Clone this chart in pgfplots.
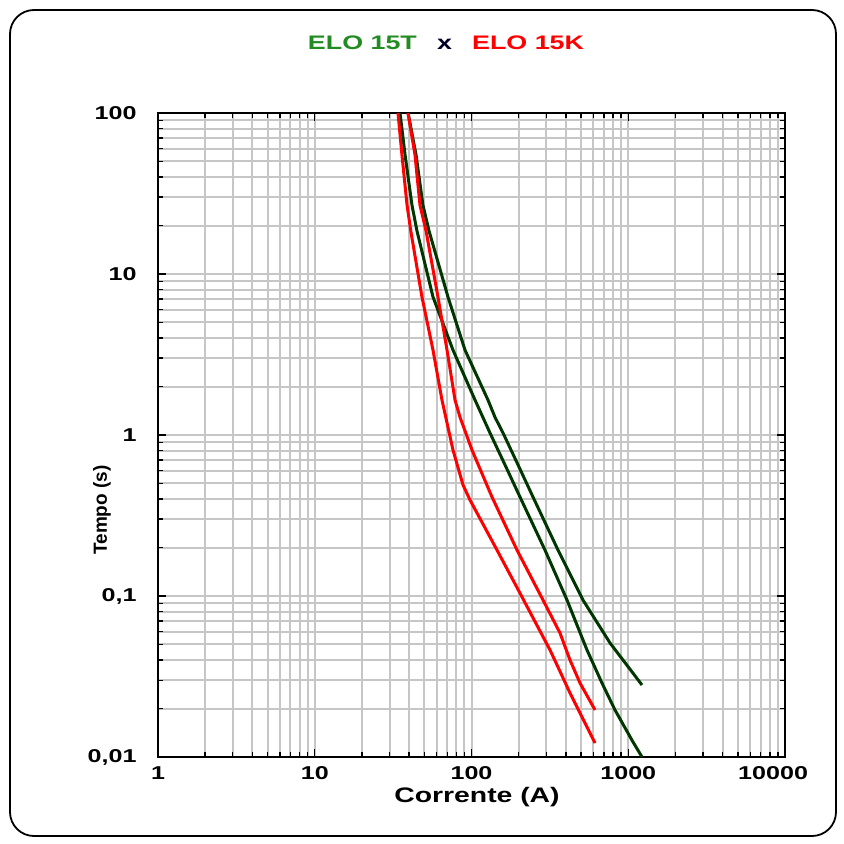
\documentclass[border=0pt]{standalone}
\usepackage{fontspec}
\setmainfont{Liberation Sans}
\usepackage{graphicx}
\usepackage{pgfplots}
\pgfplotsset{compat=1.18}
\definecolor{tgreen}{RGB}{34,139,34}
\definecolor{cgreen}{RGB}{0,55,0}
\definecolor{cred}{RGB}{255,0,0}
\newcommand{\sx}[1]{\scalebox{1.35}[1]{#1}}
\begin{document}
\begin{tikzpicture}[x=1pt,y=1pt]
\path[use as bounding box] (0,0) rectangle (422,421.5);
\draw[line width=0.9pt, rounded corners=12pt] (5,3.5) rectangle (418,416.5);
\begin{axis}[
  at={(79pt,43pt)}, anchor=south west, scale only axis,
  width=313.5pt, height=322pt,
  xmode=log, ymode=log,
  xmin=1, xmax=10000, ymin=0.01, ymax=100,
  xtick={1,10,100,1000,10000},
  xticklabels={\sx{1},\sx{10},\sx{100},\sx{1000},{\makebox[0pt][r]{\sx{10000}\kern-11.5pt}}},
  ytick={0.01,0.1,1,10,100},
  yticklabels={{\sx{0,01}},{\sx{0,1}},{\sx{1}},{\sx{10}},{\sx{100}}},
  ticklabel style={font=\bfseries\fontsize{9.3}{11}\selectfont},
  xticklabel style={anchor=north, inner sep=0pt, yshift=-4.5pt},
  yticklabel style={anchor=east, inner sep=0pt, xshift=-10.5pt},
  grid=both,
  major grid style={gray!45, line width=1pt},
  minor grid style={gray!45, line width=1pt},
  axis line style={black, line width=1pt},
  tick style={black, line width=0.7pt},
  tick align=inside,
  major tick length=4pt, minor tick length=2.5pt,
  clip=true,
]
% ELO 15T (green)
\addplot[cgreen, line width=1.5pt] coordinates {
(35.0,100) (37.7,54.8) (41.7,26.8) (44.9,18.5) (56.8,7.2) (76.2,3.37)
(105.3,1.65) (131.2,1.03) (166,0.633) (203.9,0.412) (294.3,0.193)
(406.7,0.0944) (545.6,0.0462) (680,0.0288) (823,0.0196) (1072,0.0124) (1224,0.01)};
\addplot[cgreen, line width=1.5pt] coordinates {
(39.4,100) (44.3,54.8) (49.0,26.8) (53.6,18.5) (70.8,7.2) (90.9,3.37)
(127.4,1.65) (141.2,1.29) (158.9,1.03) (201,0.633) (246.8,0.412)
(356.3,0.193) (514.4,0.0944) (764.9,0.0511) (1224,0.028)};
% ELO 15K (red)
\addplot[cred, line width=1.5pt] coordinates {
(33.97,100) (36.0,54.8) (38.8,26.8) (41.1,18.2) (48.3,7.2) (56.8,3.37)
(64.8,1.65) (76.2,0.807) (88.3,0.489) (97.8,0.395) (145.4,0.193)
(210,0.0986) (316.8,0.0462) (356.3,0.0362) (425,0.02496) (506.9,0.01772) (613.6,0.01222)};
\addplot[cred, line width=1.5pt] coordinates {
(39.35,100) (43.6,54.8) (46.9,26.8) (51.3,18.5) (61.1,7.2) (69.8,3.37)
(78.5,1.65) (84.5,1.29) (100.7,0.807) (135.1,0.412) (195.1,0.193)
(285.9,0.0944) (366.9,0.0589) (425,0.04003) (492.3,0.0288) (613.6,0.0196)};
\end{axis}
\node[font=\bfseries\fontsize{9.8}{12}\selectfont] at (223,400)
  {\scalebox{1.37}[1]{\textcolor{tgreen}{ELO 15T}\hspace{0.75em}\textcolor{black!85!blue}{x}\hspace{0.75em}\textcolor{cred}{ELO 15K}}};
\node[rotate=90, font=\bfseries\fontsize{9.5}{11}\selectfont] at (51,166.5) {Tempo (s)};
\node[font=\bfseries\fontsize{10.5}{12}\selectfont] at (238.5,23) {\sx{Corrente (A)}};
\end{tikzpicture}
\end{document}
